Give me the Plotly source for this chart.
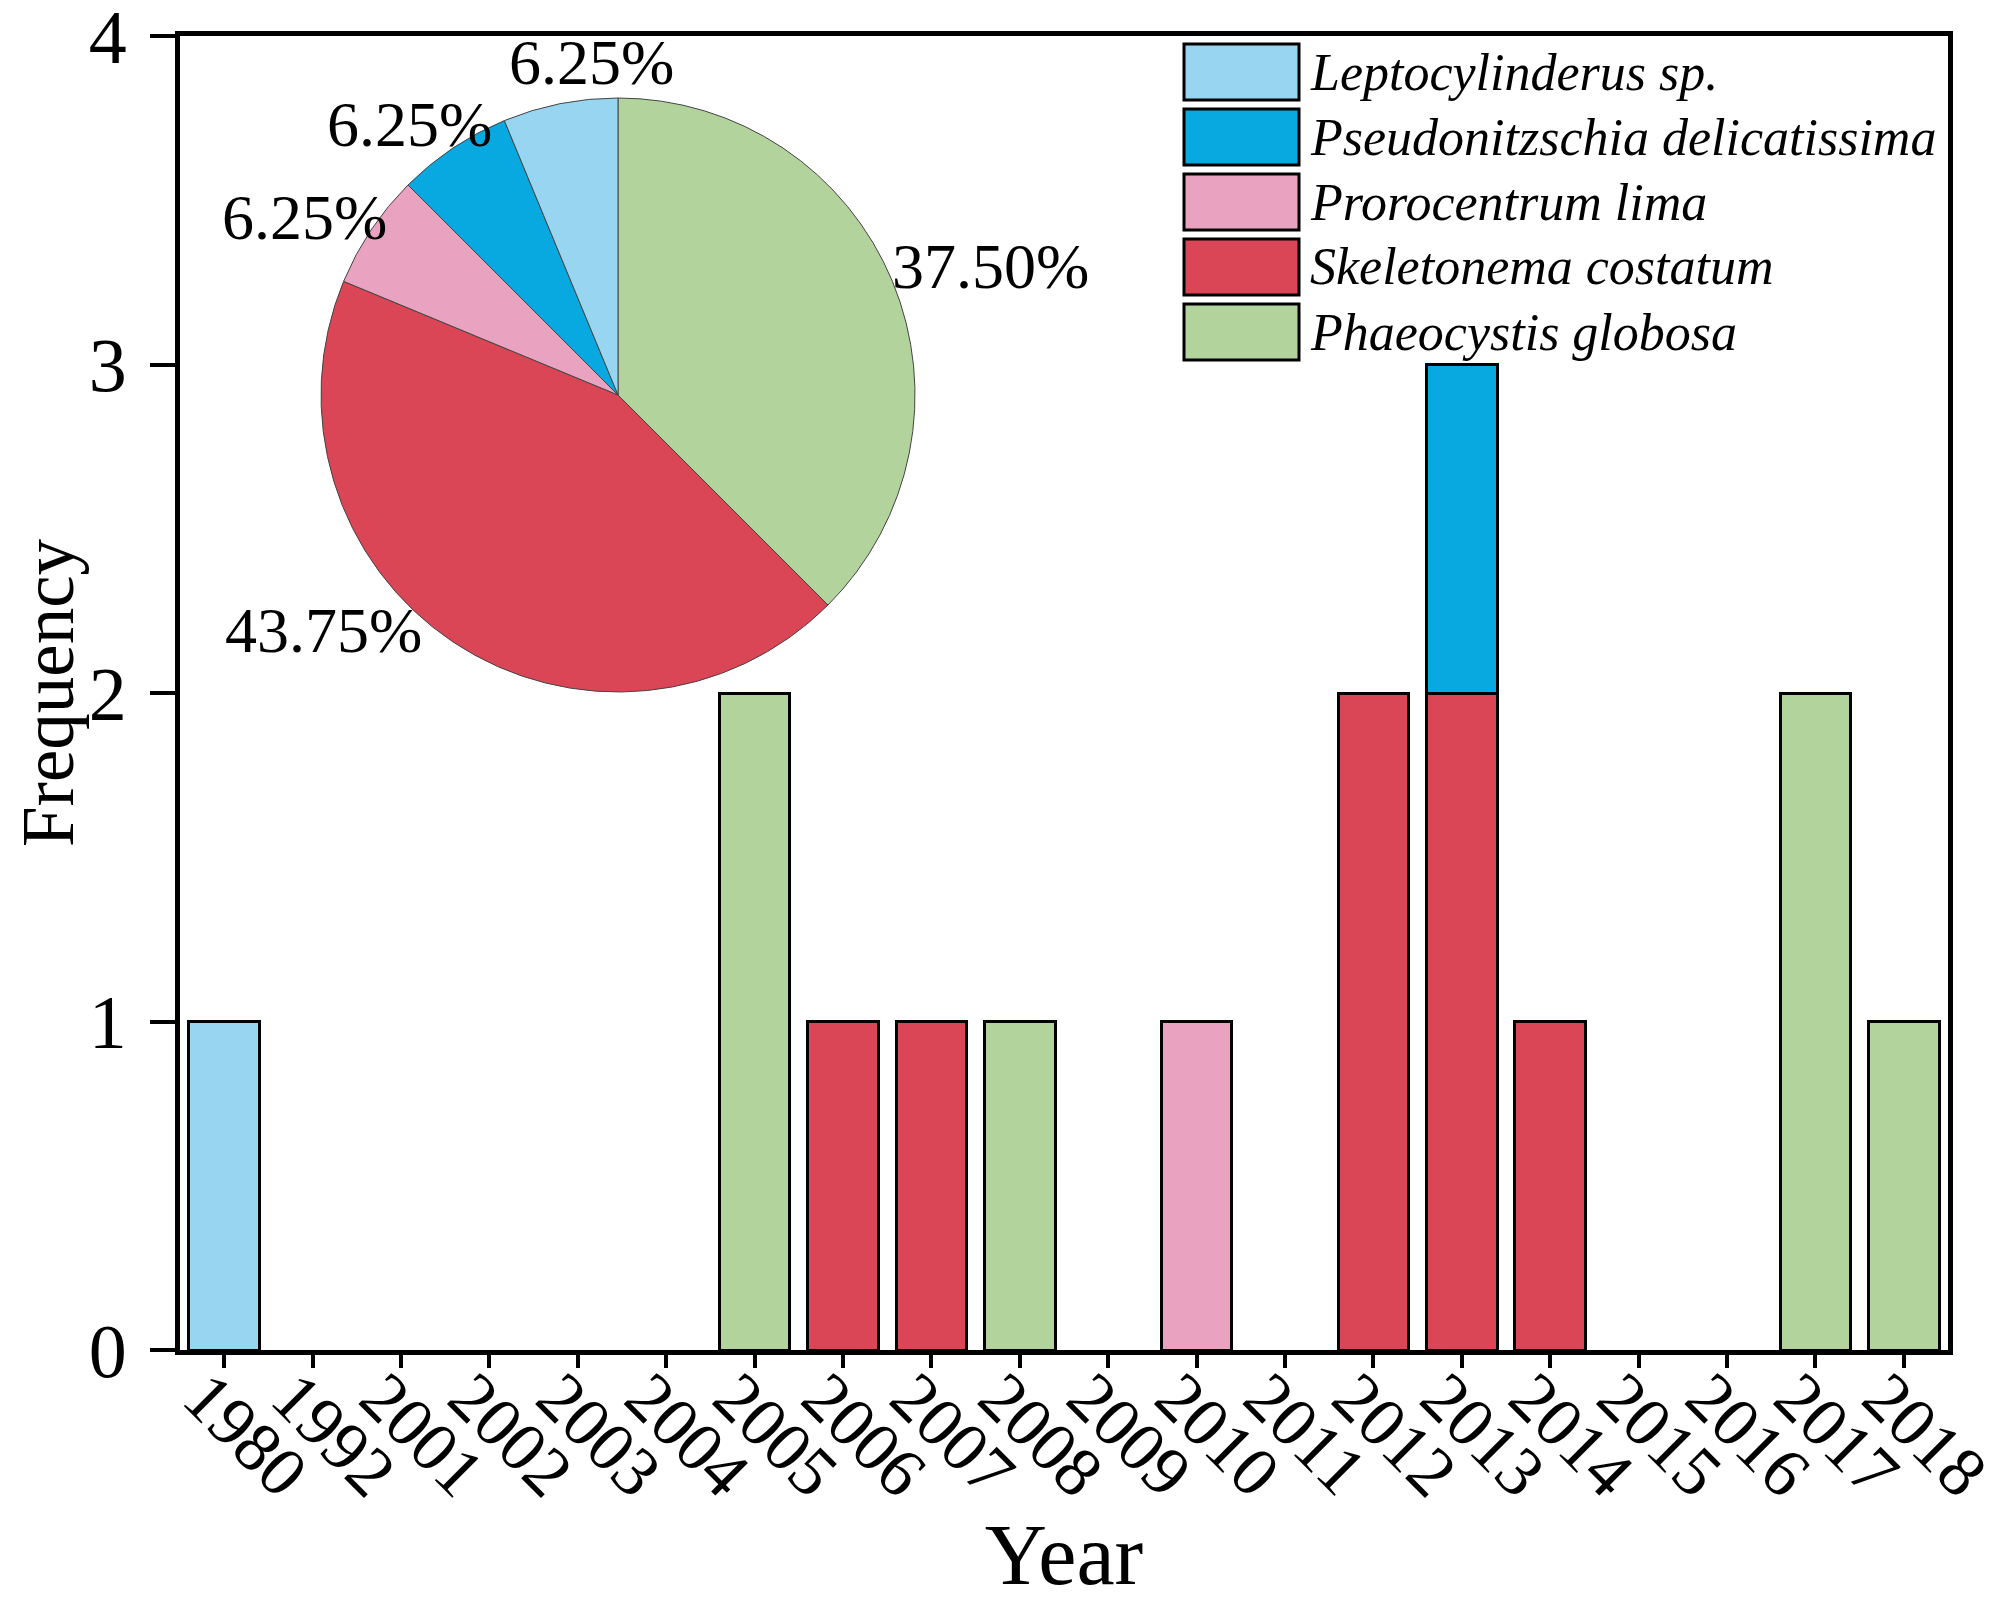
import plotly.graph_objects as go

# data
years = ['1980', '1992', '2001', '2002', '2003', '2004', '2005', '2006', '2007', '2008',
         '2009', '2010', '2011', '2012', '2013', '2014', '2015', '2016', '2017', '2018']

leptocylinderus = [1, 0, 0, 0, 0, 0, 0, 0, 0, 0, 0, 0, 0, 0, 0, 0, 0, 0, 0, 0]
pseudonitzschia = [0, 0, 0, 0, 0, 0, 0, 0, 0, 0, 0, 0, 0, 0, 1, 0, 0, 0, 0, 0]
prorocentrum    = [0, 0, 0, 0, 0, 0, 0, 0, 0, 0, 0, 1, 0, 0, 0, 0, 0, 0, 0, 0]
skeletonema     = [0, 0, 0, 0, 0, 0, 0, 1, 1, 0, 0, 0, 0, 2, 2, 1, 0, 0, 0, 0]
phaeocystis     = [0, 0, 0, 0, 0, 0, 2, 0, 0, 1, 0, 0, 0, 0, 0, 0, 0, 0, 2, 1]

names = ['Leptocylinderus sp.', 'Pseudonitzschia delicatissima', 'Prorocentrum lima',
         'Skeletonema costatum', 'Phaeocystis globosa']
colors = ['#98D5F0', '#08A9E0', '#E9A3C1', '#DB4657', '#B3D39C']

series = dict(zip(names, [leptocylinderus, pseudonitzschia, prorocentrum, skeletonema, phaeocystis]))
col = dict(zip(names, colors))

FONT = 'Liberation Serif'
OFF = 8  # the page body has an 8px margin
W, H = 1995 - OFF, 1603 - OFF
L, R, T, B = 180 - OFF, 47, 36 - OFF, 253
pw, ph = W - L - R, H - T - B


# page pixel -> paper fraction
def px2x(p):
    return (p - OFF - L) / pw


def px2y(p):
    return (H - B - (p - OFF)) / ph


fig = go.Figure()

# stacked bars, red under blue in 2013
for nm in ['Skeletonema costatum', 'Phaeocystis globosa', 'Leptocylinderus sp.',
           'Prorocentrum lima', 'Pseudonitzschia delicatissima']:
    vals = [v if v else None for v in series[nm]]
    fig.add_trace(go.Bar(
        x=list(range(len(years))), y=vals, name=nm, width=0.8,
        marker=dict(color=col[nm], line=dict(color='black', width=3)),
        showlegend=False, hoverinfo='skip'))

# pie inset, totals per species
pie_order = ['Phaeocystis globosa', 'Skeletonema costatum', 'Prorocentrum lima',
             'Pseudonitzschia delicatissima', 'Leptocylinderus sp.']
pie_vals = [sum(series[n]) for n in pie_order]
total = sum(pie_vals)
cx, cy, rad = 618, 395, 297
fig.add_trace(go.Pie(
    labels=pie_order, values=pie_vals,
    marker=dict(colors=[col[n] for n in pie_order], line=dict(color='#444444', width=1)),
    sort=False, direction='clockwise', rotation=0, textinfo='none',
    domain=dict(x=[px2x(cx - rad), px2x(cx + rad)], y=[px2y(cy + rad), px2y(cy - rad)]),
    showlegend=False, hoverinfo='skip'))

# percentage labels, placed like the original (offsets from pie centre, px)
label_off = {'Phaeocystis globosa': (372, -129), 'Skeletonema costatum': (-295, 235),
             'Prorocentrum lima': (-314, -178), 'Pseudonitzschia delicatissima': (-209, -271),
             'Leptocylinderus sp.': (-27, -333)}
for n, v in zip(pie_order, pie_vals):
    dx, dy = label_off[n]
    fig.add_annotation(xref='paper', yref='paper', x=px2x(cx + dx), y=px2y(cy + dy),
                       text=f'{v / total:.2%}', showarrow=False,
                       xanchor='center', yanchor='middle',
                       font=dict(family=FONT, size=64, color='black'))

# hand-made legend with big swatches
for i, nm in enumerate(names):
    top = 44 + 65 * i
    fig.add_shape(type='rect', xref='paper', yref='paper',
                  x0=px2x(1184), x1=px2x(1299), y0=px2y(top + 56), y1=px2y(top),
                  fillcolor=col[nm], line=dict(color='black', width=3))
    fig.add_annotation(xref='paper', yref='paper', x=px2x(1308), y=px2y(top + 28),
                       text='<i>' + nm + '</i>', showarrow=False,
                       xanchor='left', yanchor='middle',
                       font=dict(family=FONT, size=52, color='black'))

# y axis title
fig.add_annotation(xref='paper', yref='paper', x=px2x(48), y=0.5, text='Frequency',
                   textangle=-90, showarrow=False, xanchor='center', yanchor='middle',
                   font=dict(family=FONT, size=73, color='black'))

fig.update_layout(
    width=W, height=H,
    margin=dict(l=L, r=R, t=T, b=B),
    paper_bgcolor='white', plot_bgcolor='white',
    barmode='stack', bargap=0.2,
    font=dict(family=FONT, color='black'),
    xaxis=dict(range=[-0.5, len(years) - 0.5], tickmode='array', automargin=False,
               tickvals=list(range(len(years))), ticktext=years, tickangle=45,
               ticks='outside', ticklen=13, tickwidth=4, tickcolor='black',
               showline=True, linewidth=5, linecolor='black', mirror=True,
               showgrid=False, zeroline=False,
               ticklabelshift=-20, ticklabelstandoff=-40, ticklabeloverflow='allow',
               tickfont=dict(family=FONT, size=70, color='black'),
               title=dict(text='Year', font=dict(family=FONT, size=86, color='black'))),
    xaxis2=dict(range=[-0.5, len(years) - 0.5], overlaying='x', anchor='y', side='bottom',
                tickmode='array', tickvals=list(range(2, len(years), 3)), automargin=False,
                ticks='outside', ticklen=25, tickwidth=4, tickcolor='black',
                showticklabels=False, showline=False, showgrid=False, zeroline=False),
    yaxis=dict(range=[0, 4], tickmode='array', tickvals=[0, 1, 2, 3, 4], automargin=False,
               ticks='outside', ticklen=25, tickwidth=4, tickcolor='black',
               showline=True, linewidth=5, linecolor='black', mirror=True,
               showgrid=False, zeroline=False, ticklabelstandoff=8, ticklabeloverflow='allow',
               tickfont=dict(family=FONT, size=76, color='black')),
)

fig.write_html('out.html')
